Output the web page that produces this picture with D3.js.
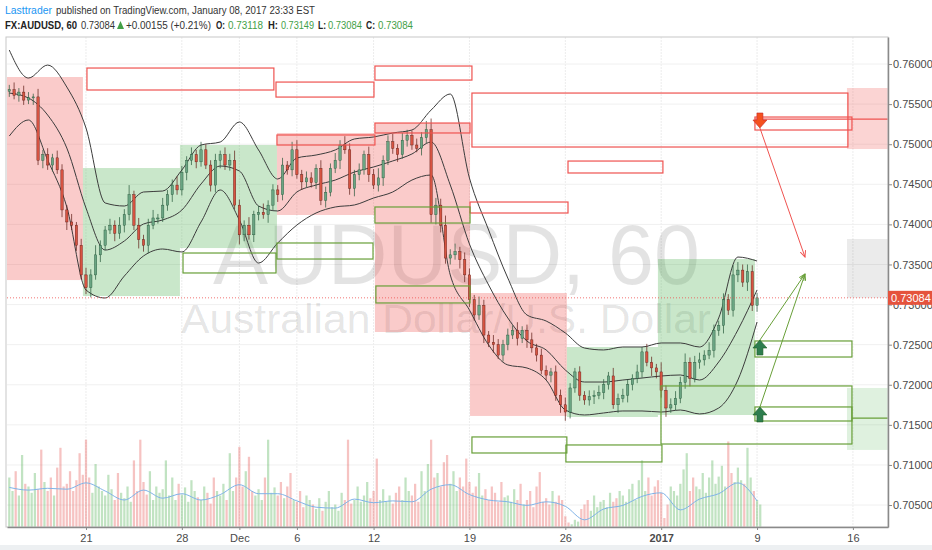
<!DOCTYPE html>
<html lang="en">
<head>
<meta charset="UTF-8">
<title>FX:AUDUSD, 60</title>
<style>
  body { margin: 0; padding: 0; background: #fff; font-family: "Liberation Sans", Arial, sans-serif; }
  svg { display: block; }
  .axis text { font-family: "Liberation Sans", Arial, sans-serif; font-size: 11px; fill: #4a4a4a; }
</style>
</head>
<body>
<script src="https://d3js.org/d3.v7.min.js"></script>
<script>
var width = 932, height = 550;

// x is a trading-day index, 0 = Mon Nov 21 2016 (weekends left out)
var dayTicks = [0, 5, 8, 11, 15, 20, 25, 30, 35, 40];
var dayLabels = ["21", "28", "Dec", "6", "12", "19", "26", "2017", "9", "16"];
var priceTicks = [0.705, 0.71, 0.715, 0.72, 0.725, 0.73, 0.735, 0.74, 0.745, 0.75, 0.755, 0.76];
var lastPrice = 0.73084;

// 6h candles, first one at day -4, 4 per day
var firstOpen = 0.7566;
var closes = [
  0.7568, 0.7561, 0.7565, 0.7555, 0.7558, 0.7559, 0.7480, 0.7487, 0.7474, 0.7483, 0.7468, 0.7418,
  0.7403, 0.7399, 0.7374, 0.7337, 0.7321, 0.7337, 0.7362, 0.7374, 0.7393, 0.7399, 0.7389, 0.7399,
  0.7412, 0.7437, 0.7399, 0.7381, 0.7374, 0.7399, 0.7408, 0.7408, 0.7424, 0.7437, 0.7449, 0.7443,
  0.7465, 0.7480, 0.7487, 0.7478, 0.7493, 0.7474, 0.7449, 0.7480, 0.7487, 0.7474, 0.7480, 0.7424,
  0.7387, 0.7399, 0.7387, 0.7412, 0.7415, 0.7412, 0.7424, 0.7443, 0.7437, 0.7474, 0.7468, 0.7493,
  0.7462, 0.7453, 0.7458, 0.7452, 0.7470, 0.7430, 0.7440, 0.7470, 0.7480, 0.7499, 0.7493, 0.7445,
  0.7462, 0.7468, 0.7487, 0.7462, 0.7449, 0.7458, 0.7480, 0.7503, 0.7495, 0.7487, 0.7505, 0.7511,
  0.7499, 0.7495, 0.7508, 0.7518, 0.7412, 0.7424, 0.7399, 0.7358, 0.7362, 0.7366, 0.7356, 0.7337,
  0.7306, 0.7287, 0.7299, 0.7262, 0.7253, 0.7250, 0.7237, 0.7250, 0.7262, 0.7268, 0.7258, 0.7268,
  0.7256, 0.7246, 0.7237, 0.7218, 0.7212, 0.7216, 0.7187, 0.7175, 0.7166, 0.7196, 0.7216, 0.7187,
  0.7181, 0.7185, 0.7187, 0.7190, 0.7200, 0.7211, 0.7175, 0.7183, 0.7187, 0.7200, 0.7208, 0.7216,
  0.7241, 0.7228, 0.7221, 0.7216, 0.7193, 0.7171, 0.7175, 0.7183, 0.7203, 0.7228, 0.7208, 0.7228,
  0.7231, 0.7237, 0.7243, 0.7268, 0.7274, 0.7306, 0.7293, 0.7337, 0.7343, 0.7328, 0.7341, 0.7299,
  0.73084
];
// wicks in pips above / below the body
var upWick = [
  6, 9, 5, 8, 7, 4, 10, 6, 8, 5, 9, 7, 6, 10, 4, 8, 9, 7, 12, 6, 5, 8, 6, 10, 7, 12, 5, 9,
  6, 8, 10, 5, 9, 6, 7, 11, 8, 5, 9, 6, 10, 7, 6, 8, 5, 9, 8, 12, 7, 6, 10, 5, 8, 11, 6, 7,
  6, 9, 5, 10, 12, 6, 8, 7, 5, 10, 7, 6, 9, 6, 11, 8, 6, 8, 5, 10, 7, 12, 6, 8, 10, 5, 9, 7,
  6, 8, 7, 11, 14, 9, 8, 12, 7, 10, 6, 9, 8, 6, 11, 7, 5, 9, 7, 6, 8, 6, 10, 5, 7, 9, 5, 8,
  6, 5, 8, 7, 9, 6, 5, 7, 5, 8, 6, 9, 7, 5, 10, 6, 8, 7, 5, 9, 6, 10, 7, 5, 12, 6, 8, 9,
  7, 11, 6, 8, 9, 6, 10, 7, 6, 8, 7, 12, 10, 7, 9, 8, 6
];
var dnWick = [
  7, 5, 8, 6, 5, 9, 6, 10, 6, 8, 5, 9, 10, 6, 7, 5, 8, 12, 6, 9, 6, 5, 10, 7, 9, 7, 6, 11,
  8, 10, 5, 7, 5, 7, 9, 6, 7, 10, 6, 8, 6, 5, 8, 9, 10, 6, 7, 5, 12, 8, 6, 9, 7, 5, 10, 6,
  9, 7, 6, 8, 5, 10, 7, 6, 8, 6, 9, 5, 6, 11, 5, 8, 10, 7, 6, 9, 5, 8, 10, 6, 7, 9, 5, 8,
  6, 5, 9, 7, 10, 12, 9, 7, 8, 6, 11, 9, 9, 7, 6, 10, 6, 10, 5, 8, 7, 5, 9, 6, 10, 6, 8, 5,
  6, 9, 7, 10, 11, 8, 6, 7, 6, 7, 9, 5, 8, 6, 5, 10, 5, 9, 7, 6, 7, 5, 10, 8, 9, 11, 6, 7,
  6, 8, 10, 5, 8, 7, 5, 9, 7, 10, 6, 8, 9, 6, 11, 7, 8
];

// Bollinger bands, one reading per day from day -4
var bandUpper = [
  0.76174, 0.75825, 0.75987, 0.75713, 0.75202, 0.74267, 0.74229, 0.74404, 0.74416, 0.74678,
  0.74990, 0.75027, 0.75277, 0.74928, 0.74566, 0.74828, 0.74865, 0.74928, 0.75065, 0.75090,
  0.75140, 0.75177, 0.75426, 0.75626, 0.74578, 0.73930, 0.73331, 0.72870, 0.72795, 0.72646,
  0.72458, 0.72434, 0.72471, 0.72471, 0.72521, 0.72521, 0.72471, 0.72833, 0.73593, 0.73543
];
var bandMiddle = [
  0.75638, 0.75576, 0.75364, 0.74952, 0.74204, 0.73680, 0.73793, 0.74005, 0.74055, 0.74179,
  0.74504, 0.74728, 0.74666, 0.74229, 0.74167, 0.74404, 0.74491, 0.74553, 0.74653, 0.74716,
  0.74791, 0.74878, 0.75027, 0.74491, 0.73755, 0.73244, 0.72833, 0.72545, 0.72434, 0.72184,
  0.72034, 0.72034, 0.72059, 0.72084, 0.72109, 0.72122, 0.72059, 0.72284, 0.72683, 0.73182
];
var bandLower = [
  0.75102, 0.75302, 0.74803, 0.74217, 0.73182, 0.73082, 0.73356, 0.73606, 0.73693, 0.73656,
  0.74030, 0.74429, 0.74055, 0.73518, 0.73768, 0.73992, 0.74142, 0.74217, 0.74242, 0.74329,
  0.74404, 0.74553, 0.74616, 0.73369, 0.72932, 0.72496, 0.72247, 0.72209, 0.72059, 0.71685,
  0.71623, 0.71648, 0.71673, 0.71673, 0.71660, 0.71685, 0.71636, 0.71710, 0.72059, 0.72783
];

// volume (relative units), 6 bars per day from day -4
var volumes = [
  55, 40, 62, 35, 80, 48, 45, 38, 60, 42, 86, 50, 40, 55, 35, 66, 88, 45, 48, 62, 40, 52, 82, 58,
  97, 55, 38, 70, 45, 40, 35, 58, 42, 30, 60, 38, 32, 45, 28, 74, 40, 97, 50, 36, 62, 30, 45, 38,
  42, 74, 35, 55, 30, 48, 36, 44, 28, 52, 40, 33, 30, 45, 38, 26, 55, 40, 35, 48, 30, 82, 40, 55,
  89, 45, 62, 78, 40, 35, 42, 30, 55, 97, 38, 44, 35, 50, 32, 45, 60, 30, 28, 40, 22, 35, 30, 25,
  20, 32, 18, 28, 40, 22, 25, 18, 38, 30, 97, 26, 30, 45, 28, 35, 50, 32, 40, 76, 30, 42, 28, 35,
  26, 38, 45, 30, 55, 40, 35, 48, 28, 62, 40, 70, 97, 55, 60, 45, 72, 80, 48, 62, 40, 55, 45, 76,
  50, 38, 45, 60, 35, 42, 30, 45, 38, 28, 50, 33, 35, 28, 42, 30, 48, 25, 30, 40, 22, 45, 61, 28,
  32, 25, 40, 28, 35, 30, 12, 5, 3, 8, 6, 20, 25, 30, 18, 35, 22, 28, 30, 22, 38, 28, 32, 40,
  35, 28, 42, 48, 30, 52, 74, 40, 55, 35, 45, 52, 38, 10, 25, 45, 40, 35, 48, 64, 82, 40, 55, 45,
  42, 60, 38, 55, 74, 48, 56, 68, 45, 95, 60, 50, 66, 52, 48, 88, 55, 40, 30, 25
];
// volume moving average, one reading per day from day -4
var volumeMA = [
  44, 41, 43, 42, 49, 40, 30, 41, 32, 37, 30, 36, 47, 37, 37, 29, 22, 21, 31, 27,
  29, 28, 42, 47, 36, 30, 28, 24, 28, 23, 8, 20, 24, 34, 38, 19, 31, 37, 49, 29
];

// drawn zones: [day from, day to, price top, price bottom]
var redZones = [
  [-4.12, -0.16, 0.75838, 0.73306], [9.96, 15.07, 0.75140, 0.74117],
  [15.07, 20.03, 0.75264, 0.72658], [20.03, 25.08, 0.73144, 0.71611]
];
var greenZones = [
  [-0.16, 4.90, 0.74703, 0.73107], [4.90, 9.96, 0.74990, 0.73705],
  [25.08, 29.83, 0.72471, 0.71598], [29.83, 34.89, 0.73568, 0.71623]
];
var projRedZones = [[39.69, 41.83, 0.75701, 0.74940]];
var projGreenZones = [[39.69, 41.83, 0.71960, 0.71187]];
var projGrayZones = [[39.69, 41.83, 0.73818, 0.73084]];
var redBoxes = [
  [0.05, 9.80, 0.75950, 0.75676], [9.91, 15.02, 0.75775, 0.75588], [15.07, 20.13, 0.75975, 0.75800],
  [20.13, 39.74, 0.75638, 0.74965], [9.96, 15.07, 0.75115, 0.74990], [15.07, 20.03, 0.75264, 0.75140],
  [20.03, 25.14, 0.74279, 0.74142], [25.14, 30.09, 0.74790, 0.74641], [34.89, 39.95, 0.75339, 0.75177]
];
var greenBoxes = [
  [5.06, 9.91, 0.73643, 0.73394], [9.96, 14.97, 0.73768, 0.73568], [15.07, 20.03, 0.74217, 0.74017],
  [15.12, 20.03, 0.73232, 0.73020], [20.13, 25.08, 0.71349, 0.71149], [25.03, 30.04, 0.71249, 0.71037],
  [29.99, 39.95, 0.71985, 0.71261], [34.89, 39.95, 0.72546, 0.72346], [34.89, 39.95, 0.71723, 0.71548]
];
var redLevels = [[34.89, 41.83, 0.75314]];
var greenLevels = [[39.95, 41.83, 0.71585]];
var sellSignals = [[35.15, 0.75202]];
var buySignals = [[35.15, 0.72558], [35.15, 0.71723]];
var redTargets = [[35.15, 0.75202, 37.50, 0.73593]];
var greenTargets = [[35.15, 0.72558, 37.50, 0.73381], [35.15, 0.71723, 37.50, 0.73381]];

var RED = "#ef5350", GREEN = "#689f38", TXT_GREEN = "#43a047";

var svg = d3.select("body").append("svg")
  .attr("width", width)
  .attr("height", height);

var plot = { left: 7, right: 888, top: 37, bottom: 527 };

var x = d3.scaleLinear().domain([-4.12, 41.83]).range([plot.left, plot.right]);
var y = d3.scaleLinear().domain([0.70226, 0.76337]).range([plot.bottom, plot.top]);
var yv = d3.scaleLinear().domain([0, 100]).range([plot.bottom, plot.bottom - 90]);

svg.append("defs").append("clipPath").attr("id", "plotclip")
  .append("rect")
  .attr("x", plot.left).attr("y", plot.top)
  .attr("width", plot.right - plot.left).attr("height", plot.bottom - plot.top);

var defs = svg.select("defs");
[["headRed", RED], ["headGreen", GREEN]].forEach(function (m) {
  defs.append("marker")
    .attr("id", m[0]).attr("viewBox", "0 0 10 10")
    .attr("refX", 9).attr("refY", 5)
    .attr("markerWidth", 7).attr("markerHeight", 7)
    .attr("orient", "auto")
    .append("path").attr("d", "M0,1 L9,5 L0,9").attr("fill", "none")
    .attr("stroke", m[1]).attr("stroke-width", 1.4);
});

// bottom strip
svg.append("rect").attr("x", 0).attr("y", 545).attr("width", width).attr("height", 5).attr("fill", "#edf0f2");

var g = svg.append("g").attr("clip-path", "url(#plotclip)");

// grid
g.selectAll(".vgrid").data(dayTicks).enter().append("line")
  .attr("x1", function (d) { return x(d); }).attr("x2", function (d) { return x(d); })
  .attr("y1", plot.top).attr("y2", plot.bottom)
  .attr("stroke", "#ececec").attr("stroke-dasharray", "2,1");
g.selectAll(".hgrid").data(priceTicks).enter().append("line")
  .attr("x1", plot.left).attr("x2", plot.right)
  .attr("y1", function (d) { return y(d); }).attr("y2", function (d) { return y(d); })
  .attr("stroke", "#f0f0f0");

// watermark
g.append("text")
  .attr("x", 213).attr("y", 284)
  .attr("textLength", 487).attr("lengthAdjust", "spacingAndGlyphs")
  .style("font-family", "'Liberation Sans', Arial, sans-serif")
  .style("font-size", "86px")
  .attr("fill", "rgba(0,0,0,0.11)")
  .text("AUDUSD, 60");
g.append("text")
  .attr("x", 181).attr("y", 333)
  .attr("textLength", 530).attr("lengthAdjust", "spacingAndGlyphs")
  .style("font-family", "'Liberation Sans', Arial, sans-serif")
  .style("font-size", "41px")
  .attr("fill", "rgba(0,0,0,0.11)")
  .text("Australian Dollar/U.S. Dollar");

function zoneRects(data, fill, stroke) {
  g.append("g").selectAll("rect").data(data).enter().append("rect")
    .attr("x", function (d) { return x(d[0]); })
    .attr("width", function (d) { return x(d[1]) - x(d[0]); })
    .attr("y", function (d) { return y(d[2]); })
    .attr("height", function (d) { return y(d[3]) - y(d[2]); })
    .attr("fill", fill)
    .attr("stroke", stroke || "none")
    .attr("stroke-width", 1.2);
}

zoneRects(redZones, "rgba(239,83,80,0.3)");
zoneRects(greenZones, "rgba(76,175,80,0.3)");
zoneRects(projRedZones, "rgba(239,83,80,0.25)");
zoneRects(projGreenZones, "rgba(76,175,80,0.18)");
zoneRects(projGrayZones, "rgba(0,0,0,0.08)");

// candles
var candles = closes.map(function (c, i) {
  var o = i ? closes[i - 1] : firstOpen;
  return {
    day: -4 + i / 4, o: o, c: c,
    h: Math.max(o, c) + upWick[i] / 10000,
    l: Math.min(o, c) - dnWick[i] / 10000
  };
});

// volume
var vBar = (x(1) - x(0)) / 6 * 0.7;
g.append("g").selectAll("rect").data(volumes).enter().append("rect")
  .attr("x", function (v, j) { return x(-4 + j / 6) - vBar / 2; })
  .attr("width", vBar)
  .attr("y", function (v) { return yv(v); })
  .attr("height", function (v) { return yv(0) - yv(v); })
  .attr("fill", function (v, j) {
    var k = Math.min(candles.length - 1, Math.floor(j * 4 / 6));
    return candles[k].c >= candles[k].o ? "rgba(76,175,80,0.35)" : "rgba(229,83,80,0.35)";
  });

g.append("path")
  .datum(volumeMA)
  .attr("fill", "none").attr("stroke", "#7fb3e8").attr("stroke-width", 1)
  .attr("d", d3.line()
    .x(function (v, i) { return x(-4 + i); })
    .y(function (v) { return yv(v); })
    .curve(d3.curveMonotoneX));

// bollinger bands
var bandLine = d3.line()
  .x(function (v, i) { return x(-4 + i); })
  .y(function (v) { return y(v); })
  .curve(d3.curveMonotoneX);
[bandUpper, bandMiddle, bandLower].forEach(function (band) {
  g.append("path").datum(band)
    .attr("fill", "none").attr("stroke", "#3c3c3c").attr("stroke-width", 1)
    .attr("d", bandLine);
});

var bodyW = (x(1) - x(0)) / 4 * 0.5;
var cg = g.append("g").selectAll("g").data(candles).enter().append("g");
cg.append("line")
  .attr("x1", function (d) { return x(d.day); }).attr("x2", function (d) { return x(d.day); })
  .attr("y1", function (d) { return y(d.h); }).attr("y2", function (d) { return y(d.l); })
  .attr("stroke", function (d) { return d.c >= d.o ? "#225437" : "#5b1a13"; })
  .attr("stroke-width", 0.7);
cg.append("rect")
  .attr("x", function (d) { return x(d.day) - bodyW / 2; })
  .attr("width", bodyW)
  .attr("y", function (d) { return y(Math.max(d.o, d.c)); })
  .attr("height", function (d) { return Math.max(1, Math.abs(y(d.o) - y(d.c))); })
  .attr("fill", function (d) { return d.c >= d.o ? "#6ba583" : "#d75442"; })
  .attr("stroke", function (d) { return d.c >= d.o ? "#225437" : "#5b1a13"; })
  .attr("stroke-width", 0.4);

// outlined boxes
zoneRects(redBoxes, "none", RED);
zoneRects(greenBoxes, "none", GREEN);

function levels(data, color) {
  g.append("g").selectAll("line").data(data).enter().append("line")
    .attr("x1", function (d) { return x(d[0]); }).attr("x2", function (d) { return x(d[1]); })
    .attr("y1", function (d) { return y(d[2]); }).attr("y2", function (d) { return y(d[2]); })
    .attr("stroke", color).attr("stroke-width", 1.2);
}
levels(redLevels, RED);
levels(greenLevels, GREEN);

// last price line
g.append("line")
  .attr("x1", plot.left).attr("x2", plot.right)
  .attr("y1", y(lastPrice)).attr("y2", y(lastPrice))
  .attr("stroke", "#ef5350").attr("stroke-opacity", 0.8)
  .attr("stroke-dasharray", "1,2");

// target lines
function targets(data, color, head) {
  g.append("g").selectAll("line").data(data).enter().append("line")
    .attr("x1", function (d) { return x(d[0]); }).attr("y1", function (d) { return y(d[1]); })
    .attr("x2", function (d) { return x(d[2]); }).attr("y2", function (d) { return y(d[3]); })
    .attr("stroke", color).attr("stroke-width", 1)
    .attr("marker-end", "url(#" + head + ")");
}
targets(redTargets, RED, "headRed");
targets(greenTargets, GREEN, "headGreen");

// signal arrows (anchored at the tip)
g.append("g").selectAll("path").data(sellSignals).enter().append("path")
  .attr("transform", function (d) { return "translate(" + x(d[0]) + "," + y(d[1]) + ")"; })
  .attr("d", "M0,0 L-7,-8 L-3,-8 L-3,-15 L3,-15 L3,-8 L7,-8 Z")
  .attr("fill", "#f4511e").attr("stroke", "#c62828").attr("stroke-width", 0.6);
g.append("g").selectAll("path").data(buySignals).enter().append("path")
  .attr("transform", function (d) { return "translate(" + x(d[0]) + "," + y(d[1]) + ")"; })
  .attr("d", "M0,0 L-7,8 L-3,8 L-3,15 L3,15 L3,8 L7,8 Z")
  .attr("fill", "#2e7d4f").attr("stroke", "#1b5e20").attr("stroke-width", 0.6);

// frame
svg.append("rect")
  .attr("x", plot.left - 1).attr("y", plot.top)
  .attr("width", plot.right - plot.left + 1).attr("height", plot.bottom - plot.top)
  .attr("fill", "none").attr("stroke", "#c8c8c8");

// axes
var yAxis = d3.axisRight(y).tickValues(priceTicks).tickFormat(d3.format(".5f")).tickSize(4).tickSizeOuter(0);
var ya = svg.append("g").attr("class", "axis").attr("transform", "translate(" + plot.right + ",0)").call(yAxis);
ya.select(".domain").attr("stroke", "#8a8a8a").attr("stroke-width", 1.5);
ya.selectAll(".tick line").attr("stroke", "#8a8a8a");
ya.selectAll(".tick text").attr("x", 5);

var xAxis = d3.axisBottom(x).tickValues(dayTicks).tickFormat(function (d, i) { return dayLabels[i]; }).tickSize(3).tickSizeOuter(0);
var xa = svg.append("g").attr("class", "axis").attr("transform", "translate(0," + plot.bottom + ")").call(xAxis);
xa.select(".domain").attr("stroke", "#8a8a8a").attr("stroke-width", 1.5);
xa.selectAll(".tick line").attr("stroke", "#8a8a8a");
xa.selectAll(".tick text").attr("y", 7)
  .style("font-weight", function (d, i) { return dayLabels[i] === "2017" ? "bold" : "normal"; });

// last price label, drawn over the tick label it covers
svg.append("rect")
  .attr("x", plot.right).attr("y", y(lastPrice) - 7)
  .attr("width", width - plot.right).attr("height", 14)
  .attr("fill", "#e5533d");
svg.append("text")
  .attr("x", plot.right + 3).attr("y", y(lastPrice) + 4)
  .style("font-size", "11px").attr("fill", "#fff")
  .text(d3.format(".5f")(lastPrice));

// header
var header1 = [
  { t: "Lasttrader", x: 5, w: 47, c: "#2196f3", b: false },
  { t: "published on TradingView.com, January 08, 2017 23:33 EST", x: 56, w: 259, c: "#333", b: false }
];
var header2 = [
  { t: "FX:AUDUSD, 60", x: 5, w: 72, c: "#222", b: true },
  { t: "0.73084", x: 81, w: 34, c: "#333", b: false },
  { t: "+0.00155 (+0.21%)", x: 126, w: 85, c: "#333", b: false },
  { t: "O:", x: 216, w: 9, c: "#222", b: true },
  { t: "0.73118", x: 228, w: 35, c: TXT_GREEN, b: false },
  { t: "H:", x: 268, w: 10, c: "#222", b: true },
  { t: "0.73149", x: 281, w: 33, c: TXT_GREEN, b: false },
  { t: "L:", x: 318, w: 8, c: "#222", b: true },
  { t: "0.73084", x: 328, w: 34, c: TXT_GREEN, b: false },
  { t: "C:", x: 366, w: 9, c: "#222", b: true },
  { t: "0.73084", x: 378, w: 35, c: TXT_GREEN, b: false }
];
function headerLine(items, base) {
  svg.append("g").selectAll("text").data(items).enter().append("text")
    .attr("x", function (d) { return d.x; }).attr("y", base)
    .attr("textLength", function (d) { return d.w; })
    .attr("lengthAdjust", "spacingAndGlyphs")
    .style("font-size", "10px")
    .style("font-weight", function (d) { return d.b ? "bold" : "normal"; })
    .attr("fill", function (d) { return d.c; })
    .text(function (d) { return d.t; });
}
headerLine(header1, 14);
headerLine(header2, 29);
svg.append("path").attr("d", "M117,29 L124,29 L120.5,21 Z").attr("fill", TXT_GREEN);
</script>
</body>
</html>
